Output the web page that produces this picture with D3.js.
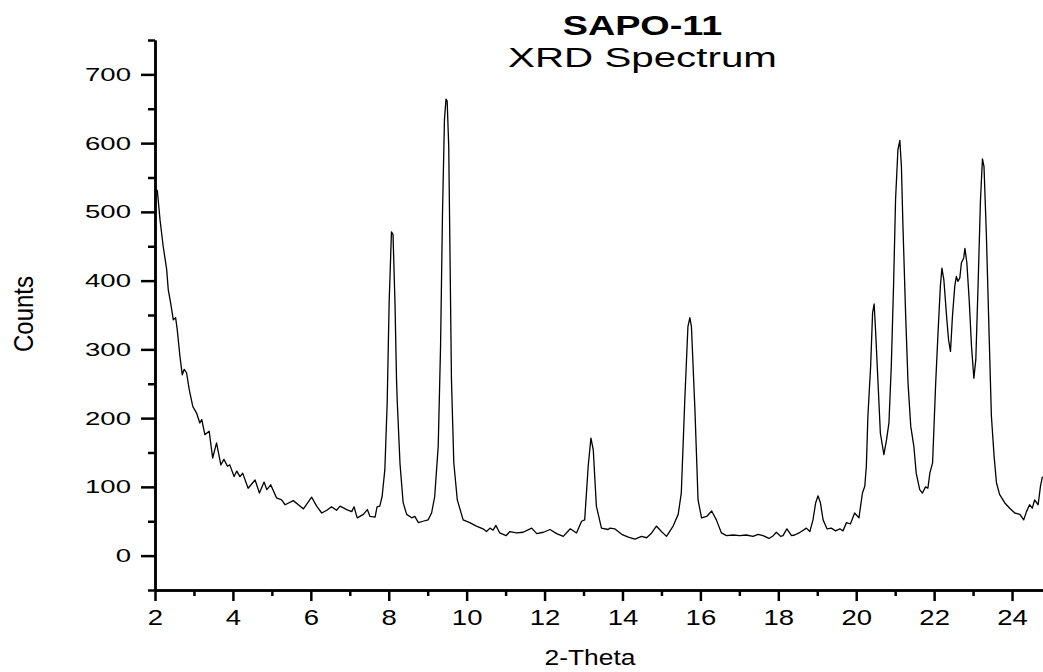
<!DOCTYPE html>
<html lang="en">
<head>
  <meta charset="UTF-8" />
  <title>SAPO-11 XRD Spectrum</title>
  <script src="https://d3js.org/d3.v7.min.js"></script>
  <style>
    body { margin: 0; background: #fff; }
    svg { display: block; }
    text { font-family: 'Liberation Sans', Arial, sans-serif; fill: #000; }
    .axis path, .axis line { stroke: #000; stroke-width: 2.5px; }
    .trace { fill: none; stroke: #000; stroke-width: 1.3px; stroke-linejoin: round; }
  </style>
</head>
<body>
  <svg id="chart" width="1043" height="672"></svg>

  <script>
    // 2-theta positions (degrees)
    const twoTheta = [
      2.03, 2.06, 2.13, 2.21, 2.30, 2.34, 2.40, 2.47, 2.53, 2.57, 2.64, 2.70, 2.75, 2.81, 2.88, 2.97,
      3.07, 3.15, 3.20, 3.28, 3.39, 3.48, 3.58, 3.69, 3.77, 3.86, 3.92, 4.03, 4.10, 4.18, 4.25, 4.39,
      4.57, 4.68, 4.80, 4.87, 4.97, 5.12, 5.25, 5.34, 5.55, 5.68, 5.81, 6.02, 6.15, 6.28, 6.41, 6.53,
      6.66, 6.75, 6.92, 7.05, 7.11, 7.19, 7.35, 7.45, 7.52, 7.65, 7.70, 7.77, 7.83, 7.90, 7.96, 8.01,
      8.07, 8.11, 8.16, 8.20, 8.22, 8.29, 8.37, 8.46, 8.59, 8.67, 8.76, 8.88, 9.01, 9.10, 9.18, 9.27,
      9.33, 9.38, 9.43, 9.47, 9.50, 9.54, 9.57, 9.61, 9.67, 9.76, 9.91, 10.08, 10.25, 10.42, 10.51, 10.60,
      10.68, 10.75, 10.85, 11.01, 11.11, 11.28, 11.45, 11.67, 11.80, 11.97, 12.14, 12.31, 12.48, 12.66, 12.82, 12.95,
      13.03, 13.12, 13.19, 13.25, 13.33, 13.46, 13.63, 13.68, 13.80, 13.98, 14.15, 14.32, 14.49, 14.62, 14.75, 14.87,
      15.00, 15.13, 15.30, 15.43, 15.51, 15.60, 15.68, 15.73, 15.77, 15.86, 15.94, 16.03, 16.16, 16.29, 16.41, 16.54,
      16.67, 16.84, 17.01, 17.18, 17.35, 17.48, 17.61, 17.76, 17.87, 17.95, 18.06, 18.12, 18.22, 18.34, 18.42, 18.53,
      18.64, 18.72, 18.81, 18.89, 18.96, 19.02, 19.08, 19.15, 19.25, 19.36, 19.47, 19.58, 19.66, 19.75, 19.85, 19.96,
      20.07, 20.16, 20.22, 20.26, 20.30, 20.37, 20.42, 20.46, 20.50, 20.56, 20.62, 20.71, 20.78, 20.84, 20.90, 20.96,
      21.01, 21.07, 21.12, 21.16, 21.20, 21.27, 21.33, 21.40, 21.48, 21.54, 21.63, 21.70, 21.78, 21.84, 21.89, 21.96,
      21.99, 22.04, 22.10, 22.16, 22.20, 22.25, 22.32, 22.37, 22.42, 22.47, 22.53, 22.57, 22.61, 22.66, 22.70, 22.76,
      22.79, 22.84, 22.90, 22.96, 23.02, 23.07, 23.13, 23.19, 23.24, 23.28, 23.34, 23.41, 23.47, 23.54, 23.60, 23.68,
      23.81, 23.94, 24.07, 24.20, 24.30, 24.37, 24.45, 24.52, 24.58, 24.67, 24.73, 24.78
    ];

    // counts at each 2-theta position
    const counts = [
      532, 531, 488, 450, 416, 387, 368, 343, 346, 329, 290, 263, 271, 266, 241, 217,
      207, 193, 198, 176, 181, 142, 164, 132, 140, 130, 132, 115, 123, 115, 120, 98,
      110, 91, 107, 96, 103, 84, 81, 74, 80, 74, 68, 85, 72, 62, 66, 71,
      66, 72, 67, 64, 71, 55, 60, 67, 57, 56, 71, 72, 86, 125, 222, 367,
      471, 467, 368, 256, 222, 133, 77, 60, 55, 57, 48, 50, 52, 62, 86, 159,
      304, 498, 634, 664, 661, 595, 450, 256, 135, 81, 52, 48, 43, 39, 35, 40,
      37, 44, 33, 29, 35, 33, 34, 40, 32, 34, 38, 32, 28, 39, 33, 50,
      52, 130, 171, 154, 72, 40, 38, 40, 39, 31, 27, 24, 28, 26, 33, 43,
      35, 28, 43, 60, 91, 227, 333, 346, 333, 212, 81, 55, 57, 65, 52, 33,
      29, 30, 29, 30, 28, 31, 29, 25, 29, 34, 28, 29, 39, 29, 30, 33,
      37, 40, 35, 52, 77, 87, 77, 52, 39, 40, 36, 39, 36, 48, 46, 62,
      55, 91, 101, 130, 203, 275, 353, 366, 324, 251, 178, 147, 169, 193, 275, 396,
      518, 590, 604, 566, 479, 348, 251, 188, 159, 120, 96, 91, 100, 98, 120, 135,
      178, 251, 324, 392, 418, 401, 348, 314, 297, 348, 392, 406, 399, 404, 426, 433,
      447, 426, 372, 304, 258, 285, 397, 518, 577, 566, 469, 324, 203, 144, 106, 89,
      77, 69, 62, 60, 52, 64, 74, 69, 81, 74, 101, 115
    ];

    const xMajor = [2, 4, 6, 8, 10, 12, 14, 16, 18, 20, 22, 24];
    const xMinor = [3, 5, 7, 9, 11, 13, 15, 17, 19, 21, 23, 25];
    const yMajor = [0, 100, 200, 300, 400, 500, 600, 700];
    const yMinor = [-50, 50, 150, 250, 350, 450, 550, 650, 750];

    const svg = d3.select("#chart");

    const x = d3.scaleLinear().domain([2, 25]).range([155, 1051]);
    const y = d3.scaleLinear().domain([-50, 750]).range([590, 40]);

    // stretch text horizontally (the original picture is wider than tall)
    function stretch(sel, k) {
      sel.each(function() {
        const t = d3.select(this);
        const tx = +t.attr("x") || 0;
        t.attr("x", tx / k).attr("transform", `scale(${k},1)`);
      });
    }

    // curve
    const points = twoTheta.map((t, i) => [t, counts[i]]);
    svg.append("path")
      .datum(points)
      .attr("class", "trace")
      .attr("d", d3.line().x(d => x(d[0])).y(d => y(d[1])));

    // x axis
    svg.append("g")
      .attr("class", "axis")
      .attr("transform", `translate(0,${y(-50)})`)
      .call(d3.axisBottom(x).tickValues(xMinor).tickSize(6).tickSizeOuter(0).tickFormat(""));

    const gx = svg.append("g")
      .attr("class", "axis")
      .attr("transform", `translate(0,${y(-50)})`)
      .call(d3.axisBottom(x).tickValues(xMajor).tickSize(11).tickSizeOuter(0).tickPadding(8));
    gx.selectAll("text").style("font-size", "22px");
    stretch(gx.selectAll("text"), 1.25);

    // y axis
    svg.append("g")
      .attr("class", "axis")
      .attr("transform", `translate(${x(2)},0)`)
      .call(d3.axisLeft(y).tickValues(yMinor).tickSize(7).tickSizeOuter(0).tickFormat(""));

    const gy = svg.append("g")
      .attr("class", "axis")
      .attr("transform", `translate(${x(2)},0)`)
      .call(d3.axisLeft(y).tickValues(yMajor).tickSize(14).tickSizeOuter(0).tickPadding(10));
    gy.selectAll("text").style("font-size", "19px");
    stretch(gy.selectAll("text"), 1.45);

    // titles
    svg.append("text")
      .attr("x", 642.5 / 1.35).attr("y", 35)
      .attr("transform", "scale(1.35,1)")
      .attr("text-anchor", "middle")
      .style("font-size", "28px").style("font-weight", "bold")
      .text("SAPO-11");

    svg.append("text")
      .attr("x", 642.5 / 1.44).attr("y", 67)
      .attr("transform", "scale(1.44,1)")
      .attr("text-anchor", "middle")
      .style("font-size", "28px")
      .text("XRD Spectrum");

    svg.append("text")
      .attr("x", 590 / 1.2).attr("y", 665)
      .attr("transform", "scale(1.2,1)")
      .attr("text-anchor", "middle")
      .style("font-size", "22px")
      .text("2-Theta");

    svg.append("text")
      .attr("transform", "translate(32.7,314) scale(1.16,1) rotate(-90)")
      .attr("text-anchor", "middle")
      .style("font-size", "24px")
      .text("Counts");
  </script>
</body>
</html>
